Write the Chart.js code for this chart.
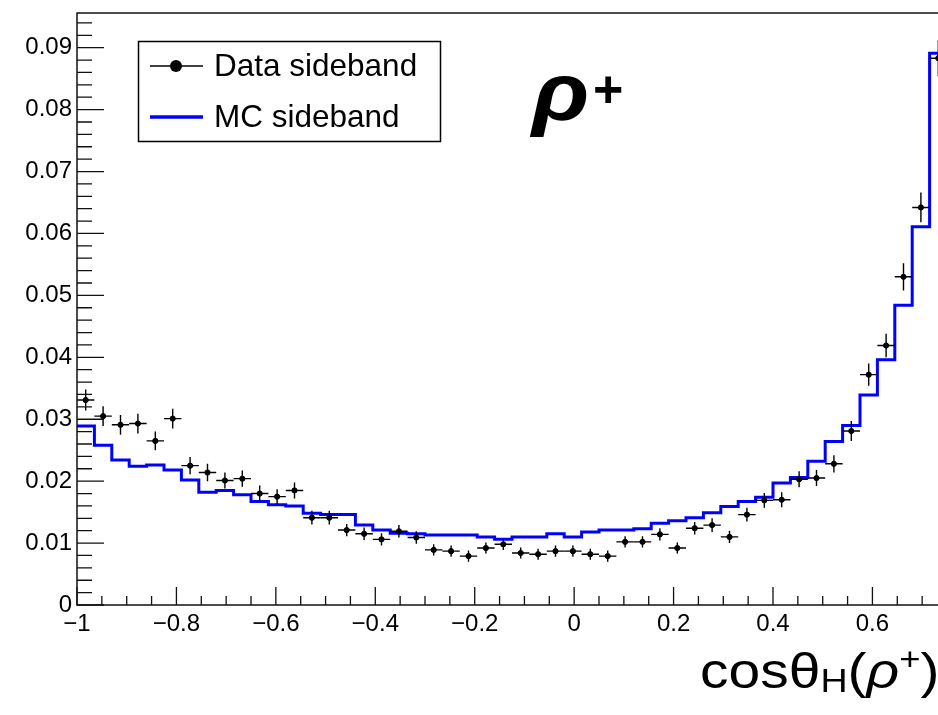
<!DOCTYPE html>
<html><head><meta charset="utf-8">
<script src="https://cdn.jsdelivr.net/npm/chart.js@4/dist/chart.umd.min.js"></script>
<style>
html,body{margin:0;padding:0;background:#fff;overflow:hidden;width:938px;height:715px;}
#wrap{position:relative;width:960px;height:715px;}
</style></head><body>
<div id="wrap"><canvas id="c"></canvas></div>
<script>
// ---- data ----
const binEdges = [-1.000,-0.965,-0.930,-0.895,-0.860,-0.825,-0.790,-0.755,-0.720,-0.685,
  -0.650,-0.615,-0.580,-0.545,-0.510,-0.475,-0.440,-0.405,-0.370,-0.335,
  -0.300,-0.265,-0.230,-0.195,-0.160,-0.125,-0.090,-0.055,-0.020,0.015,
  0.050,0.085,0.120,0.155,0.190,0.225,0.260,0.295,0.330,0.365,
  0.400,0.435,0.470,0.505,0.540,0.575,0.610,0.645,0.680,0.715,0.750];
const dataSideband = [0.0331,0.0305,0.0291,0.0293,0.0265,0.0301,0.0225,0.0214,0.0201,0.0204,
  0.0180,0.0175,0.0185,0.0141,0.0141,0.0121,0.0115,0.0106,0.0119,0.0109,
  0.0089,0.0087,0.0079,0.0092,0.0098,0.0084,0.0082,0.0087,0.0087,0.0082,
  0.0079,0.0102,0.0102,0.0114,0.0092,0.0124,0.0129,0.0110,0.0146,0.0169,
  0.0170,0.0203,0.0205,0.0228,0.0281,0.0372,0.0419,0.0530,0.0642,0.0883];
const dataErrors = [0.0017,0.0016,0.0016,0.0016,0.0015,0.0016,0.0014,0.0014,0.0013,0.0013,
  0.0013,0.0012,0.0013,0.0011,0.0011,0.0010,0.0010,0.0010,0.0010,0.0010,
  0.0009,0.0009,0.0009,0.0009,0.0009,0.0009,0.0009,0.0009,0.0009,0.0009,
  0.0009,0.0009,0.0009,0.0010,0.0009,0.0010,0.0011,0.0010,0.0011,0.0012,
  0.0012,0.0013,0.0013,0.0014,0.0016,0.0018,0.0019,0.0022,0.0024,0.0029];
const mcSideband = [0.0289,0.0258,0.0234,0.0224,0.0226,0.0218,0.0202,0.0182,0.0185,0.0178,
  0.0167,0.0162,0.0160,0.0148,0.0146,0.0146,0.0129,0.0121,0.0116,0.0115,
  0.0113,0.0113,0.0113,0.0110,0.0106,0.0110,0.0110,0.0115,0.0110,0.0118,
  0.0121,0.0121,0.0123,0.0132,0.0136,0.0141,0.0149,0.0159,0.0167,0.0174,
  0.0197,0.0206,0.0232,0.0264,0.0290,0.0339,0.0396,0.0484,0.0611,0.0891];
const xTickValues = [-1,-0.8,-0.6,-0.4,-0.2,0,0.2,0.4,0.6];
const xTickLabels = ['\u22121','\u22120.8','\u22120.6','\u22120.4','\u22120.2','0','0.2','0.4','0.6'];
const yTickValues = [0,0.01,0.02,0.03,0.04,0.05,0.06,0.07,0.08,0.09];
const yTickLabels = ['0','0.01','0.02','0.03','0.04','0.05','0.06','0.07','0.08','0.09'];
const legendLabels = ['Data sideband','MC sideband'];

// ---- build datasets ----
const dataPts = dataSideband.map((v,i)=>({x:(binEdges[i]+binEdges[i+1])/2, y:v}));
const mcPts = mcSideband.map((v,i)=>({x:binEdges[i], y:v}));
mcPts.push({x:binEdges[binEdges.length-1], y:mcSideband[mcSideband.length-1]});

const FONT = '"Liberation Sans", Arial, Helvetica, sans-serif';

const rootStyle = {
  id:'rootStyle',
  afterDatasetsDraw(chart){
    const {ctx, scales:{x,y}} = chart;
    ctx.save();
    ctx.strokeStyle='#000'; ctx.lineWidth=1.4;
    dataSideband.forEach((v,i)=>{
      const xl=x.getPixelForValue(binEdges[i]), xr=x.getPixelForValue(binEdges[i+1]);
      const xc=x.getPixelForValue((binEdges[i]+binEdges[i+1])/2);
      const yc=y.getPixelForValue(v);
      const yt=y.getPixelForValue(v+dataErrors[i]), yb=y.getPixelForValue(v-dataErrors[i]);
      ctx.beginPath();
      ctx.moveTo(xl,yc); ctx.lineTo(xr,yc);
      ctx.moveTo(xc,yt); ctx.lineTo(xc,yb);
      ctx.stroke();
    });
    ctx.restore();
  },
  afterDraw(chart){
    const {ctx, chartArea:a, scales:{x,y}} = chart;
    ctx.save();
    // frame
    ctx.strokeStyle='#111'; ctx.lineWidth=1.5;
    ctx.strokeRect(a.left, a.top, a.right-a.left, a.bottom-a.top);
    // ticks (inside)
    ctx.lineWidth=1.3; ctx.strokeStyle='#111';
    ctx.beginPath();
    for(let k=0;k<=35;k++){
      const v=-1+k*0.05; const px=x.getPixelForValue(v);
      const major = (k%4===0);
      ctx.moveTo(px,a.bottom); ctx.lineTo(px,a.bottom-(major?18:9));
    }
    for(let k=0;k<=47;k++){
      const v=k*0.002; const py=y.getPixelForValue(v);
      if(py<a.top) continue;
      const major=(k%5===0);
      ctx.moveTo(a.left,py); ctx.lineTo(a.left+(major?27:15),py);
    }
    ctx.stroke();

    // legend box
    ctx.lineWidth=1.5; ctx.strokeStyle='#000';
    ctx.strokeRect(138.5,41.5,302,100);
    ctx.beginPath(); ctx.lineWidth=1.5; ctx.moveTo(150,66); ctx.lineTo(203,66); ctx.stroke();
    ctx.beginPath(); ctx.fillStyle='#000'; ctx.arc(176,66,6,0,Math.PI*2); ctx.fill();
    ctx.beginPath(); ctx.strokeStyle='#0000ff'; ctx.lineWidth=3.5; ctx.moveTo(150,117); ctx.lineTo(203,117); ctx.stroke();
    ctx.fillStyle='#000'; ctx.font='31.5px '+FONT; ctx.textBaseline='alphabetic'; ctx.textAlign='left';
    ctx.fillText(legendLabels[0],214,76);
    ctx.fillText(legendLabels[1],214,127);

    // rho+ label
    ctx.save();
    ctx.translate(532,120); ctx.scale(1.15,1);
    ctx.font='italic bold 82px '+FONT;
    ctx.fillText('\u03C1',0,0);
    ctx.restore();
    ctx.font='bold 52px '+FONT;
    ctx.fillText('+',593,107);

    // x-axis title: cosθH(ρ+)  (wide lettering as in the reference)
    ctx.save();
    ctx.translate(700,688); ctx.scale(1.14,1);
    let xx=0;
    const seg=(t,f,dy)=>{ctx.font=f; ctx.fillText(t,xx,dy); xx+=ctx.measureText(t).width;};
    seg('cos\u03B8','50px '+FONT,0);
    seg('H','33px '+FONT,4);
    seg('(','50px '+FONT,0);
    seg('\u03C1','italic 50px '+FONT,0);
    seg('+','32px '+FONT,-18);
    seg(')','50px '+FONT,0);
    ctx.restore();
    ctx.restore();
  }
};

const cv=document.getElementById('c');
cv.width=960; cv.height=715; cv.style.width='960px'; cv.style.height='715px';
new Chart(cv,{
  type:'scatter',
  data:{datasets:[
    {label:legendLabels[0], data:dataPts, pointRadius:2.6, pointHoverRadius:2.6, backgroundColor:'#000', borderColor:'#000', showLine:false, order:1},
    {label:legendLabels[1], type:'line', data:mcPts, stepped:'before', borderColor:'#0000ff', borderWidth:3, pointRadius:0, fill:false, tension:0, order:2}
  ]},
  options:{
    responsive:false, animation:false, devicePixelRatio:1,
    layout:{padding:{left:0,top:13,right:13,bottom:0}},
    plugins:{legend:{display:false}, tooltip:{enabled:false}},
    scales:{
      x:{type:'linear', min:-1, max:0.75,
        grid:{display:false, drawTicks:false}, border:{display:false},
        ticks:{includeBounds:false, autoSkip:false, maxRotation:0, padding:5, color:'#000', font:{family:FONT,size:24},
          callback:(v)=>{const i=xTickValues.findIndex(t=>Math.abs(t-v)<1e-9); return i>=0?xTickLabels[i]:'';}},
        afterBuildTicks:(s)=>{s.ticks=xTickValues.map(v=>({value:v}));},
        afterFit:(s)=>{s.height=110; s.paddingLeft=0; s.paddingRight=0;}
      },
      y:{type:'linear', min:0, max:0.0956,
        grid:{display:false, drawTicks:false}, border:{display:false},
        ticks:{includeBounds:false, autoSkip:false, padding:5, color:'#000', font:{family:FONT,size:24},
          callback:(v)=>{const i=yTickValues.findIndex(t=>Math.abs(t-v)<1e-9); return i>=0?yTickLabels[i]:'';}},
        afterBuildTicks:(s)=>{s.ticks=yTickValues.map(v=>({value:v}));},
        afterFit:(s)=>{s.width=77; s.paddingTop=0; s.paddingBottom=0;}
      }
    }
  },
  plugins:[rootStyle]
});
</script>
</body></html>
